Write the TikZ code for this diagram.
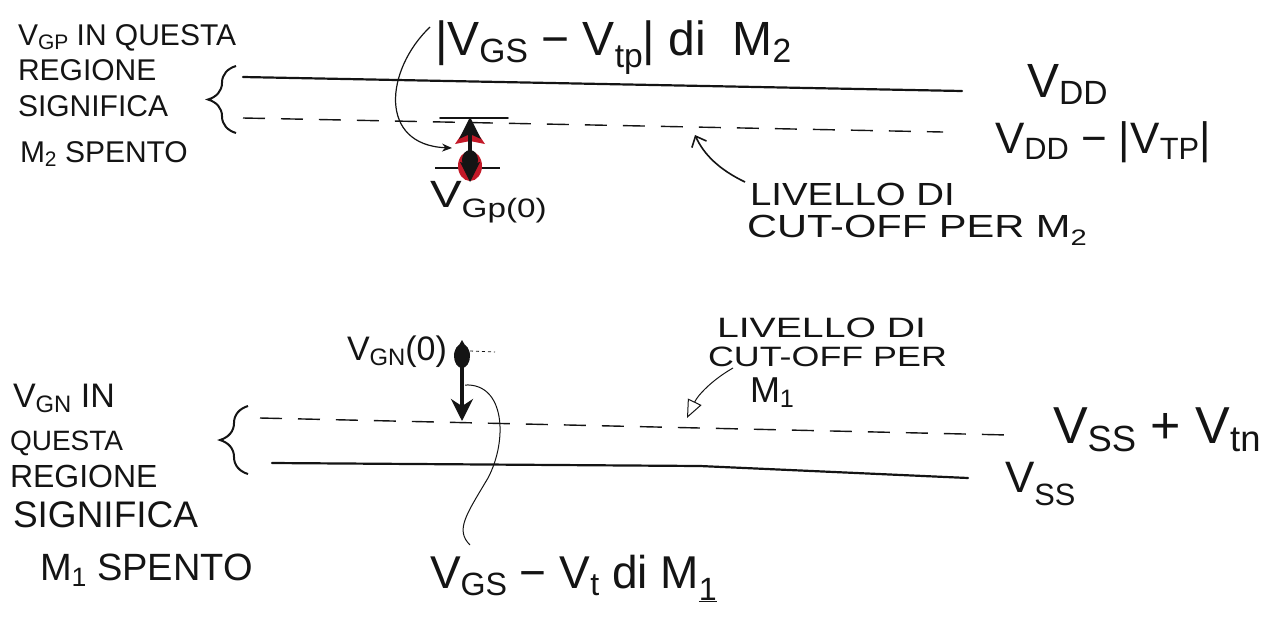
\documentclass[tikz,border=0pt]{standalone}
\usepackage{fontspec}
\usepackage{graphicx}
\setmainfont{Liberation Sans}
\usetikzlibrary{arrows.meta,decorations.pathreplacing}
% handwritten-style subscript: smaller and dropped below the baseline
\newcommand\lo[2][0.3ex]{\raisebox{-#1}{\scalebox{0.7}{#2}}}
% horizontal stretch for the wide hand lettering
\newcommand\hs[2]{\scalebox{#1}[1]{#2}}
\newcommand\fsz[1]{\fontsize{#1}{#1}\selectfont}
\definecolor{ink}{RGB}{20,20,20}
\definecolor{pen}{RGB}{195,25,40}
\begin{document}
\begin{tikzpicture}[x=1pt,y=-1pt,
  hand/.style={inner sep=0pt, outer sep=0pt, anchor=base west, text=ink},
  railsolid/.style={draw=ink, line width=2.2pt, line cap=round},
  raildash/.style={draw=ink, line width=1.4pt, dash pattern=on 22pt off 16pt},
  pointer/.style={draw=ink, line width=1.2pt},
  hbrace/.style={draw=ink, line width=2pt, decorate,
                 decoration={brace, amplitude=28pt, aspect=0.5}},
  tick/.style={draw=ink, line width=1.6pt, line cap=round}
]
\useasboundingbox (0,0) rectangle (1266,625);

% ---------------- upper half: gate of M2 ----------------
\node[hand, font=\fsz{30}] (gpA) at (18,45)  {V\lo{GP} IN QUESTA};
\node[hand, font=\fsz{30}] (gpB) at (18,80)  {REGIONE};
\node[hand, font=\fsz{30}] (gpC) at (18,116) {SIGNIFICA};
\node[hand, font=\fsz{30}] (gpD) at (20,162) {M\lo{2} SPENTO};

\draw[hbrace] (236,133) -- (236,66);

\coordinate (vddL) at (243,77);
\coordinate (vddR) at (962,91);
\draw[railsolid] (vddL) -- (vddR);

\coordinate (vtpL) at (243,118);
\coordinate (vtpR) at (943,132);
\draw[raildash] (vtpL) -- (vtpR);

\node[hand, font=\fsz{48}] (vddLab) at (1027,97)  {V\lo{DD}};
\node[hand, font=\fsz{44}] (vtpLab) at (995,153)  {V\lo{DD} − |V\lo{TP}|};

\node[hand, font=\fsz{48}] (gsLab) at (435,55) {|V\lo{GS} − V\lo[0.5ex]{tp}| di\ \ M\lo{2}};

% swing of the gate voltage below the cut-off level (pen-marked double arrow)
\coordinate (gpTop) at (470,117);
\coordinate (gpBot) at (470,182);
\draw[tick] (440,118) -- (508,118);
\draw[ink, line width=1.2pt] (435,168) -- (500,168);
\fill[pen] (470,122) -- (485,144) -- (470,141) -- (455,144) -- cycle;
\fill[pen] (470,166) ellipse (12pt and 15pt);
\draw[ink, line width=4.5pt] (470,132) -- (470,160);
\fill[ink] (gpTop) -- (481,139) -- (470,134) -- (459,139) -- cycle;
\fill[ink] (470,160) ellipse (8pt and 10pt);
\fill[ink] (gpBot) -- (480,162) -- (470,165) -- (460,162) -- cycle;

\node[hand, font=\fsz{38}] (gp0Lab) at (430,207) {\hs{1.25}{V\lo[0.5ex]{Gp(0)}}};

\coordinate (gsTail) at (430,27);
\coordinate (gsHead) at (452,148);
\draw[pointer, -{Stealth[length=10pt,width=8pt]}]
  (gsTail) .. controls (385,70) and (378,145) .. (gsHead);

\node[hand, font=\fsz{32}] (coA) at (750,205) {\hs{1.2}{LIVELLO DI}};
\node[hand, font=\fsz{32}] (coB) at (747,237) {\hs{1.3}{CUT-OFF PER M\lo[0.5ex]{2}}};

\coordinate (coTail) at (745,182);
\coordinate (coHead) at (695,135);
\draw[pointer, line width=1.6pt, -{Straight Barb[length=9pt,width=16pt]}]
  (coTail) .. controls (720,170) and (704,155) .. (coHead);

% ---------------- lower half: gate of M1 ----------------
\node[hand, font=\fsz{34}] (gnA) at (13,407) {V\lo{GN} IN};
\node[hand, font=\fsz{28}] (gnB) at (10,450) {QUESTA};
\node[hand, font=\fsz{32}] (gnC) at (10,487) {REGIONE};
\node[hand, font=\fsz{37}] (gnD) at (13,527) {SIGNIFICA};
\node[hand, font=\fsz{38}] (gnE) at (40,580) {M\lo{1} SPENTO};

\draw[hbrace] (248,474) -- (248,406);

\coordinate (vtnL) at (260,418);
\coordinate (vtnR) at (1008,435);
\draw[raildash] (vtnL) -- (vtnR);

\coordinate (vssL) at (272,463);
\coordinate (vssM) at (700,466);
\coordinate (vssR) at (968,478);
\draw[railsolid] (vssL) -- (vssM) -- (vssR);

\node[hand, font=\fsz{52}] (vtnLab) at (1053,443) {V\lo{SS} + V\lo{tn}};
\node[hand, font=\fsz{44}] (vssLab) at (1005,492) {V\lo[0.6ex]{SS}};

\node[hand, font=\fsz{34}] (gn0Lab) at (347,360) {V\lo{GN}(0)};

\coordinate (gnTop) at (462,340);
\coordinate (gnBot) at (462,421);
\draw[ink, dashed, line width=0.8pt] (470,351) -- (495,352);
\fill[ink] (462,356) ellipse (8pt and 12pt);
\draw[ink, line width=4pt,
      {Stealth[length=14pt,width=16pt]}-{Stealth[length=22pt,width=22pt]}] (gnTop) -- (gnBot);

\coordinate (gtTail) at (465,385);
\coordinate (gtEnd) at (470,545);
\draw[ink, line width=1pt]
  (gtTail) .. controls (505,383) and (508,440) .. (488,478)
           .. controls (466,515) and (455,530) .. (gtEnd);

\node[hand, font=\fsz{46}] (gtLab) at (430,588) {V\lo{GS} − V\lo{t} di M\lo[0.5ex]{\underline{1}}};

\node[hand, font=\fsz{28}] (cmA) at (717,337) {\hs{1.4}{LIVELLO DI}};
\node[hand, font=\fsz{28}] (cmB) at (708,366) {\hs{1.28}{CUT-OFF PER}};
\node[hand, font=\fsz{36}] (cmC) at (750,402) {M\lo{1}};

\coordinate (cmTail) at (733,368);
\coordinate (cmHead) at (687,418);
\draw[ink, line width=1pt, -{Triangle[open,length=18pt,width=15pt]}]
  (cmTail) .. controls (712,380) and (698,395) .. (cmHead);

\end{tikzpicture}
\end{document}
